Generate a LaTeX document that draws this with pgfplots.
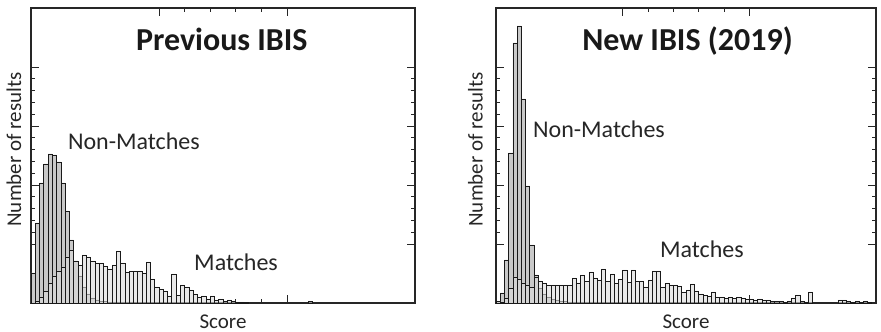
\documentclass[border=0pt]{standalone}
\usepackage{fontspec}
\setmainfont{Carlito}
\usepackage{pgfplots}
\usepackage{pgfplotstable}
\pgfplotsset{compat=1.18}

% Previous IBIS - non-matches
\pgfplotstableread{
i v
0 30
1 80
2 120
3 139
4 149
5 148
6 141
7 120
8 92
9 63
10 42
11 27
12 16
13 9
14 5
15 3
16 2
17 1.5
18 1
19 1
20 1
21 1
22 1
23 1
24 0.8
25 0.6
26 0.6
27 0.5
28 0.5
29 0.5
30 0.5
}\leftNon
% Previous IBIS - matches
\pgfplotstableread{
i v
1 2
2 6
3 12
4 20
5 27
6 32
7 36
8 46
9 53
10 42
11 38
12 48
13 46
14 42
15 40
16 40
17 37
18 34
19 38
20 52
21 40
22 31
23 32
24 32
25 32
26 30
27 41
28 24
29 16
30 14
31 12
32 7
33 29
34 8
35 18
36 16
37 13
38 9
39 6
40 7
41 4
42 7
43 3
44 4
45 2
46 3
47 2
48 1
49 1
50 0.5
65 1.5
}\leftMat
% New IBIS - non-matches
\pgfplotstableread{
i v
0 1.5
1 10
2 43
3 150
4 260
5 277
6 204
7 117
8 58
9 28
10 15
11 9
12 6
13 4
14 3
15 2
16 1.5
17 1
18 1
19 1
20 1
21 1
22 1
23 1
24 0.8
25 0.8
26 0.6
27 0.6
28 0.5
29 0.5
30 0.5
}\rightNon
% New IBIS - matches
\pgfplotstableread{
i v
1 1
2 5
3 15
4 26
5 24
6 20
7 18
8 16
9 26
10 22
11 20
12 18
13 18
14 18
15 18
16 18
17 18
18 25
19 20
20 28
21 22
22 31
23 25
24 23
25 34
26 22
27 29
28 20
29 24
30 33
31 21
32 33
33 22
34 22
35 16
36 23
37 32
38 32
39 16
40 20
41 18
42 18
43 17
44 11
45 13
46 19
47 12
48 9
49 8
50 7
51 11
52 6
53 6
54 5
55 6
56 5
57 6
58 5
59 4
60 4
61 3
62 4
63 3
64 3
65 2
66 2
67 2
68 1
69 2
70 5
71 8
72 2
73 1
74 11
81 3
82 3
83 2
84 1
85 2
86 1
87 2
88 1
}\rightMat

\pgfplotsset{
  ibis/.style={
    scale only axis, height=295pt,
    anchor=south west,
    ymin=0, ymax=295, xmin=0, xmax=90,
    xtick={30,60}, ytick={59,118,177,236},
    minor x tick num=4, minor y tick num=4,
    xticklabels={}, yticklabels={},
    tick align=inside, xtick pos=both, ytick pos=both,
    major tick length=8pt, minor tick length=4pt,
    tick style={black!85, line width=0.9pt},
    axis line style={black!85, line width=1.3pt},
    clip=false,
  },
  nonbar/.style={ybar, bar width=1, bar shift=0, draw=black!90, line width=0.65pt, fill=gray!42},
  matbar/.style={ybar, bar width=1, bar shift=0, draw=black!90, line width=0.65pt, fill=gray!28, fill opacity=0.6},
}
\tikzset{
  lab/.style={font=\fontsize{21}{24}\selectfont, text=black!85},
  big/.style={font=\fontsize{24}{28}\selectfont, text=black!85},
  ttl/.style={font=\fontsize{32}{36}\selectfont\bfseries, text=black!90},
}

\begin{document}
\begin{tikzpicture}
\path[use as bounding box] (0,0) rectangle (881pt,332pt);

\begin{axis}[ibis, at={(31pt,29pt)}, width=384pt]
  \addplot[nonbar] table[x expr=\thisrow{i}+0.5, y=v] {\leftNon};
  \addplot[matbar] table[x expr=\thisrow{i}+0.5, y=v] {\leftMat};
  \node[ttl, anchor=base] at (axis description cs:0.497,0.856) {Previous IBIS};
  \node[big, anchor=base] at (axis description cs:0.268,0.519) {Non-Matches};
  \node[big, anchor=base] at (axis description cs:0.534,0.109) {Matches};
  \node[lab, anchor=base, rotate=90] at (axis description cs:-0.026,0.52) {Number of results};
  \node[lab, anchor=base] at (axis description cs:0.5,-0.086) {Score};
\end{axis}

\begin{axis}[ibis, at={(496pt,29pt)}, width=380pt]
  \addplot[nonbar] table[x expr=\thisrow{i}+0.5, y=v] {\rightNon};
  \addplot[matbar] table[x expr=\thisrow{i}+0.5, y=v] {\rightMat};
  \node[ttl, anchor=base] at (axis description cs:0.504,0.856) {New IBIS (2019)};
  \node[big, anchor=base] at (axis description cs:0.271,0.562) {Non-Matches};
  \node[big, anchor=base] at (axis description cs:0.542,0.153) {Matches};
  \node[lab, anchor=base, rotate=90] at (axis description cs:-0.035,0.52) {Number of results};
  \node[lab, anchor=base] at (axis description cs:0.5,-0.086) {Score};
\end{axis}
\end{tikzpicture}
\end{document}
